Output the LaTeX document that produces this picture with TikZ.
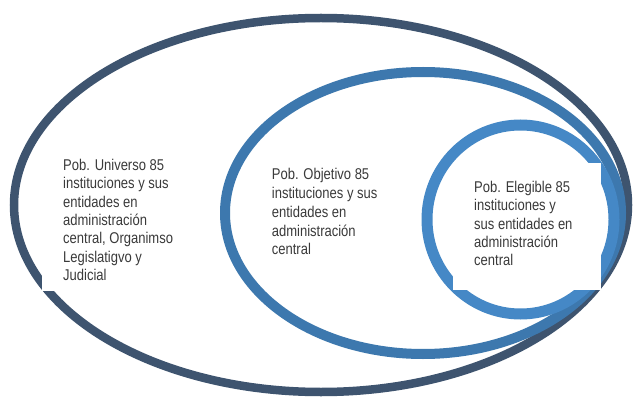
\documentclass[tikz,border=0pt]{standalone}
\usepackage{fontspec}
\setmainfont{Liberation Sans}
\usepackage{graphicx}
\definecolor{outerc}{HTML}{3E546F}
\definecolor{midc}{HTML}{3D78AE}
\definecolor{innc}{HTML}{4588C6}
\definecolor{textc}{HTML}{3A3A3A}
\newcommand{\poptext}[2]{\scalebox{1}[1.2]{\fontsize{13}{#1}\selectfont\begin{tabular}[t]{@{}l@{}}#2\end{tabular}}}
\begin{document}
\begin{tikzpicture}[x=1pt,y=-1pt,
  ringline/.style={draw=#1, line width=9pt},
  blank/.style={fill=white, draw=none},
  poplabel/.style={anchor=base west, inner sep=0pt, text=textc}]
\useasboundingbox (0,0) rectangle (634,398);
\fill[white] (0,0) rectangle (634,398);
% outer ellipse
\draw[ringline=outerc, line width=8.5pt] (321,205) ellipse [x radius=307, y radius=187];
\fill[blank] (42,150) rectangle (205,291);
\node[poplabel] (uni) at (63,170.7) {\poptext{15.25}{Pob. Universo 85\\instituciones y sus\\entidades en\\administración\\central, Organimso\\Legislatigvo y\\Judicial}};
% middle ellipse
\draw[ringline=midc, line width=10pt] (423,213) ellipse [x radius=198, y radius=141];
\node[poplabel] (obj) at (271.7,180) {\poptext{15.6}{Pob. Objetivo 85\\instituciones y sus\\entidades en\\administración\\central}};
% inner ellipse
\draw[ringline=innc, line width=11pt] (520.5,219.5) ellipse [x radius=93.5, y radius=94.5];
\fill[blank] (453,163) rectangle (601,290);
\node[poplabel] (ele) at (474,192.7) {\poptext{15.2}{Pob. Elegible 85\\instituciones y\\sus entidades en\\administración\\central}};
\end{tikzpicture}
\end{document}
